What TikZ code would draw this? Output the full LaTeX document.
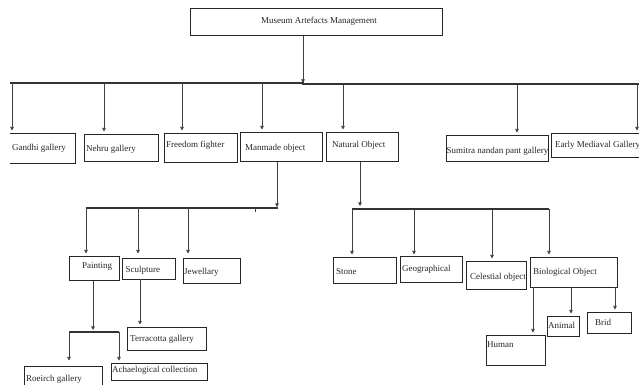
\documentclass[tikz,border=0pt]{standalone}
\usepackage{fontspec}
\setmainfont{Liberation Serif}
\usetikzlibrary{arrows.meta}
\begin{document}
\begin{tikzpicture}[x=1pt,y=-1pt,
  box/.style={draw=black!85, line width=0.8pt, rectangle, inner sep=0pt, anchor=north west},
  lbl/.style={inner sep=0pt, anchor=west, font=\fontsize{9}{10}\selectfont, text=black!85},
  conn/.style={draw=black!75, line width=0.7pt},
  arr/.style={conn, -{Triangle[width=3.6pt,length=3.6pt]}, shorten >=2.5pt},
  bus/.style={draw=black!80, line width=1.1pt}]
\useasboundingbox (0,0) rectangle (639,385);
% ---- boxes ----
\node[box, minimum width=252pt, minimum height=27pt] (top) at (190,8) {};
\node[lbl, anchor=center] (top-t) at (319,21) {Museum Artefacts Management};

\node[box, draw=none, minimum width=65pt, minimum height=30pt] (gandhi) at (10,133) {};
\draw[draw=black!85, line width=0.8pt] (gandhi.north west) -- (gandhi.north east) -- (gandhi.south east) -- (gandhi.south west);
\node[lbl] (gandhi-t) at (12,148) {Gandhi gallery};

\node[box, minimum width=74pt, minimum height=27pt] (nehru) at (84,134) {};
\node[lbl] (nehru-t) at (86,149) {Nehru gallery};

\node[box, minimum width=73pt, minimum height=29pt] (freedom) at (164,133) {};
\node[lbl] (freedom-t) at (166,145) {Freedom fighter};

\node[box, minimum width=82pt, minimum height=29pt] (manmade) at (240,132) {};
\node[lbl] (manmade-t) at (245,148) {Manmade object};

\node[box, minimum width=72pt, minimum height=29pt] (natural) at (326,132) {};
\node[lbl] (natural-t) at (332,145) {Natural Object};

\node[box, minimum width=102pt, minimum height=26pt] (sumitra) at (446,135) {};
\node[lbl] (sumitra-t) at (446.5,151) {Sumitra nandan pant gallery};

\node[box, minimum width=90pt, minimum height=24pt] (early) at (551,133) {};
\node[lbl] (early-t) at (555,145) {Early Mediaval Gallery};

\node[box, minimum width=50pt, minimum height=24pt] (painting) at (69,256) {};
\node[lbl] (painting-t) at (82,266) {Painting};

\node[box, minimum width=53pt, minimum height=21pt] (sculpture) at (122,258) {};
\node[lbl] (sculpture-t) at (125.5,270) {Sculpture};

\node[box, minimum width=57pt, minimum height=25pt] (jewellary) at (183,258) {};
\node[lbl] (jewellary-t) at (184,272) {Jewellary};

\node[box, minimum width=79pt, minimum height=23pt] (terracotta) at (127,327) {};
\node[lbl] (terracotta-t) at (130,339) {Terracotta gallery};

\node[box, minimum width=78pt, minimum height=24pt] (roeirch) at (24,366) {};
\node[lbl] (roeirch-t) at (26,379) {Roeirch gallery};

\node[box, minimum width=96pt, minimum height=17pt] (achaelogical) at (111,363) {};
\node[lbl] (achaelogical-t) at (112,370) {Achaelogical collection};

\node[box, minimum width=63pt, minimum height=26pt] (stone) at (333,257) {};
\node[lbl] (stone-t) at (336,272) {Stone};

\node[box, minimum width=62pt, minimum height=26pt] (geo) at (400,256) {};
\node[lbl] (geo-t) at (402,269) {Geographical};

\node[box, minimum width=60pt, minimum height=28pt] (celestial) at (466,261) {};
\node[lbl] (celestial-t) at (470,277) {Celestial object};

\node[box, minimum width=87pt, minimum height=30pt] (bio) at (530,257) {};
\node[lbl] (bio-t) at (533,272) {Biological Object};

\node[box, minimum width=59pt, minimum height=30pt] (human) at (486,335) {};
\node[lbl] (human-t) at (487,345) {Human};

\node[box, minimum width=32pt, minimum height=20pt] (animal) at (547,316) {};
\node[lbl] (animal-t) at (548,325) {Animal};

\node[box, minimum width=44pt, minimum height=21pt] (brid) at (587,312) {};
\node[lbl] (brid-t) at (595,322) {Brid};

% ---- level 1 connectors ----
\coordinate (b1) at (303,83);
\coordinate (b1l) at (10,83);
\coordinate (b1r) at (639,84);
\draw[arr, shorten >=0pt] (top.south -| b1) -- (b1);
\draw[bus] (b1l) -- (b1) -- (303,84) -- (b1r);
\coordinate (d1) at (12,83);
\coordinate (d2) at (104,83);
\coordinate (d3) at (182,83);
\coordinate (d4) at (262,83);
\coordinate (d5) at (343,84);
\coordinate (d6) at (517,84);
\coordinate (d7) at (637,84);
\draw[arr] (d1) -- (d1 |- gandhi.north);
\draw[arr] (d2) -- (d2 |- nehru.north);
\draw[arr] (d3) -- (d3 |- freedom.north);
\draw[arr] (d4) -- (d4 |- manmade.north);
\draw[arr] (d5) -- (d5 |- natural.north);
\draw[arr] (d6) -- (d6 |- sumitra.north);
\draw[arr] (d7) -- (d7 |- early.north);

% ---- manmade ----
\coordinate (b2) at (277,207);
\draw[arr, shorten >=0pt] (manmade.south -| b2) -- (b2);
\draw[bus] (86,208) -- (278,208);
\draw[conn] (255,208) -- (255,212);
\coordinate (m1) at (86,208);
\coordinate (m2) at (138,208);
\coordinate (m3) at (188,208);
\draw[arr] (m1) -- (m1 |- painting.north);
\draw[arr] (m2) -- (m2 |- painting.north);
\draw[arr] (m3) -- (m3 |- painting.north);

% ---- painting ----
\coordinate (b3) at (93,330);
\draw[arr, shorten >=0pt] (painting.south -| b3) -- (b3);
\draw[bus] (69,332) -- (119,332);
\coordinate (p1) at (69,332);
\coordinate (p2) at (119,332);
\draw[arr] (p1) -- (p1 |- achaelogical.north);
\draw[arr] (p2) -- (p2 |- achaelogical.north);

% ---- sculpture ----
\coordinate (s1) at (140,279);
\draw[arr] (s1) -- (s1 |- terracotta.north);

% ---- natural ----
\coordinate (b4) at (360,206);
\draw[arr, shorten >=0pt] (natural.south -| b4) -- (b4);
\draw[bus] (352,209) -- (549,209);
\coordinate (n1) at (352,209);
\coordinate (n2) at (414,209);
\coordinate (n3) at (492,209);
\coordinate (n4) at (549,209);
\draw[arr] (n1) -- (n1 |- stone.north);
\draw[arr] (n2) -- (n2 |- stone.north);
\draw[arr] (n3) -- (n3 |- celestial.north);
\draw[arr] (n4) -- (n4 |- stone.north);

% ---- biological ----
\coordinate (h1) at (533,287);
\coordinate (h2) at (571,287);
\coordinate (h3) at (615,287);
\draw[arr] (h1) -- (h1 |- human.north);
\draw[arr] (h2) -- (h2 |- animal.north);
\draw[arr] (h3) -- (h3 |- brid.north);
\end{tikzpicture}
\end{document}
